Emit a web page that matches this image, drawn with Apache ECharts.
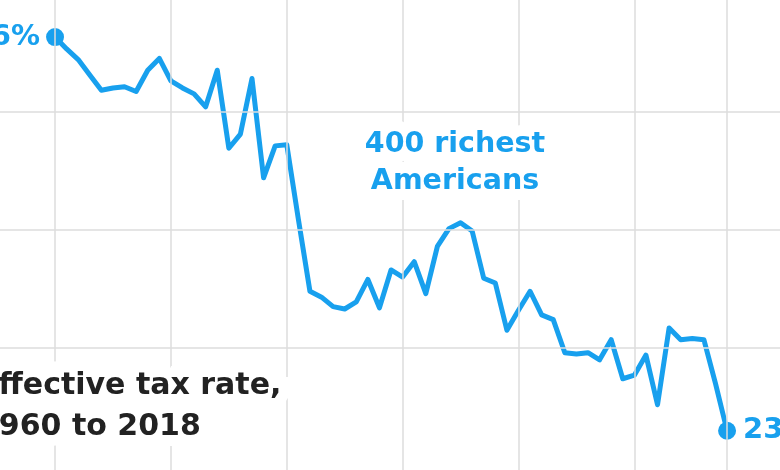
<!DOCTYPE html>
<html>
<head>
<meta charset="utf-8">
<script src="https://cdn.jsdelivr.net/npm/echarts@6/dist/echarts.min.js"></script>
<style>
  html, body { margin: 0; padding: 0; background: #ffffff; }
  #chart { width: 780px; height: 470px; }
</style>
</head>
<body>
<div id="chart"></div>
<script>
// ---- data ----
const years = [
  1960, 1961, 1962, 1963, 1964, 1965, 1966, 1967, 1968, 1969,
  1970, 1971, 1972, 1973, 1974, 1975, 1976, 1977, 1978, 1979,
  1980, 1981, 1982, 1983, 1984, 1985, 1986, 1987, 1988, 1989,
  1990, 1991, 1992, 1993, 1994, 1995, 1996, 1997, 1998, 1999,
  2000, 2001, 2002, 2003, 2004, 2005, 2006, 2007, 2008, 2009,
  2010, 2011, 2012, 2013, 2014, 2015, 2016, 2017, 2018
];
const richest400Rate = [
  56.3, 55.3, 54.4, 53.1, 51.8, 52.0, 52.1, 51.7, 53.5, 54.5,
  52.6, 52.0, 51.5, 50.4, 53.5, 46.9, 48.1, 52.8, 44.4, 47.1,
  47.2, 40.9, 34.8, 34.3, 33.5, 33.3, 33.9, 35.8, 33.4, 36.6,
  36.0, 37.3, 34.6, 38.6, 40.1, 40.6, 39.9, 35.9, 35.5, 31.5,
  33.2, 34.8, 32.8, 32.4, 29.6, 29.5, 29.6, 29.0, 30.7, 27.4,
  27.7, 29.4, 25.2, 31.7, 30.7, 30.8, 30.7, 27.0, 23.0
];
const verticalGridYears = [1960, 1970, 1980, 1990, 2000, 2010, 2018];
const horizontalGridValues = [30, 40, 50];
const seriesLabel = ['400 richest', 'Americans'];
const titleLines = ['Effective tax rate,', '1960 to 2018'];

// ---- styling ----
const BLUE = '#18a0ee';
const GRID = '#dcdcdc';

const chart = echarts.init(document.getElementById('chart'), null, { renderer: 'canvas' });

const lineData = years.map((y, i) => [y, richest400Rate[i]]);
const last = years.length - 1;
const endPoints = [
  {
    value: [years[0], richest400Rate[0]],
    label: { position: 'left', distance: 6 }
  },
  {
    value: [years[last], richest400Rate[last]],
    label: { position: 'right', distance: 7 }
  }
];

const option = {
  animation: false,
  backgroundColor: '#ffffff',
  grid: { left: 0, right: 0, top: 0, bottom: 0, containLabel: false },
  xAxis: {
    type: 'value',
    min: 1955.25,
    max: 2022.57,
    show: false,
    splitLine: { show: false }
  },
  yAxis: {
    type: 'value',
    min: 19.68,
    max: 59.44,
    show: false,
    splitLine: { show: false }
  },
  series: [
    {
      name: 'grid',
      type: 'line',
      data: [],
      silent: true,
      z: 1,
      markLine: {
        silent: true,
        symbol: ['none', 'none'],
        label: { show: false },
        emphasis: { disabled: true },
        lineStyle: { color: GRID, width: 1.5, type: 'solid' },
        data: [
          ...verticalGridYears.map(v => ({ xAxis: v })),
          ...horizontalGridValues.map(v => ({ yAxis: v }))
        ]
      }
    },
    {
      name: '400 richest Americans',
      type: 'line',
      data: lineData,
      symbol: 'none',
      z: 3,
      lineStyle: { color: BLUE, width: 5, join: 'round', cap: 'round' },
      silent: true
    },
    {
      name: 'ends',
      type: 'scatter',
      data: endPoints,
      symbol: 'circle',
      symbolSize: 18,
      z: 4,
      silent: true,
      itemStyle: { color: BLUE, opacity: 1 },
      label: {
        show: true,
        color: BLUE,
        opacity: 1,
        fontFamily: 'DejaVu Sans',
        fontWeight: 'bold',
        fontSize: 29,
        formatter: p => Math.round(p.value[1]) + '%'
      }
    }
  ],
  graphic: [
    {
      type: 'text',
      x: 455,
      y: 163.5,
      z: 10,
      silent: true,
      style: {
        text: seriesLabel.join('\n'),
        font: 'bold 28.5px "DejaVu Sans"',
        fill: BLUE,
        align: 'center',
        verticalAlign: 'middle',
        lineHeight: 37,
        stroke: '#ffffff',
        lineWidth: 22
      }
    },
    {
      type: 'text',
      x: -22,
      y: 406.5,
      z: 10,
      silent: true,
      style: {
        text: titleLines.join('\n'),
        font: 'bold 30px "DejaVu Sans"',
        fill: '#222222',
        align: 'left',
        verticalAlign: 'middle',
        lineHeight: 41,
        stroke: '#ffffff',
        lineWidth: 22
      }
    }
  ]
};

chart.setOption(option);
</script>
</body>
</html>
